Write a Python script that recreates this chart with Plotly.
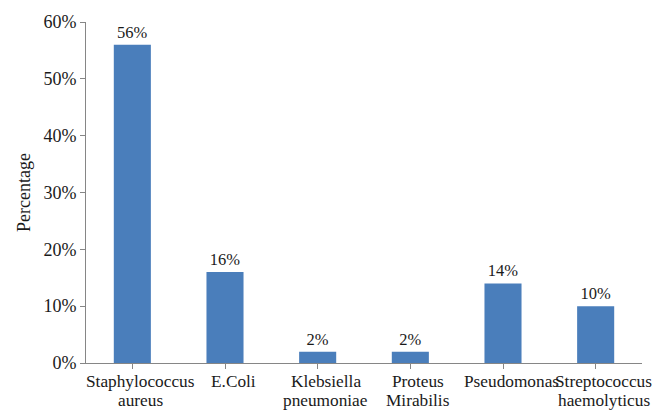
import plotly.graph_objects as go

categories = ["Staphylococcus aureus", "E.Coli", "Klebsiella pneumoniae",
              "Proteus Mirabilis", "Pseudomonas", "Streptococcus haemolyticus"]
values = [56, 16, 2, 2, 14, 10]
y_ticks = [0, 10, 20, 30, 40, 50, 60]

fam = "Liberation Serif, Times New Roman, serif"
col = "#1a1a1a"
font = dict(family=fam, size=18, color=col)
xfont = dict(family=fam, size=17.3, color=col)
lblfont = dict(family=fam, size=16.5, color=col)

xs = list(range(len(categories)))

fig = go.Figure(go.Bar(
    x=xs, y=values,
    width=0.4, marker=dict(color="#4a7ebb", line=dict(width=0)),
    text=[f"{v}%" for v in values], textposition="outside",
    textfont=lblfont, cliponaxis=False,
))

# category labels (two lines with the tighter spacing of the original)
for x, name in zip(xs, categories):
    lines = name.split(" ", 1)
    for i, line in enumerate(lines):
        fig.add_annotation(
            x=x, xref="x", y=0, yref="paper",
            text=line, showarrow=False, font=xfont,
            xanchor="center", yanchor="middle",
            xshift=8, yshift=-(18 + 19.5 * i),
        )

fig.update_layout(
    width=656, height=410,
    margin=dict(l=86, r=14, t=22, b=47),
    plot_bgcolor="white", paper_bgcolor="white",
    font=font, showlegend=False,
    xaxis=dict(
        range=[-0.5, 5.5], tickmode="array",
        tickvals=xs, ticktext=[""] * len(xs),
        showline=True, linecolor="#868686", linewidth=1,
        ticks="outside", ticklen=5, tickcolor="#868686",
        tickson="boundaries", showgrid=False, zeroline=False,
        tickfont=xfont, tickangle=0, automargin=False,
    ),
    yaxis=dict(
        range=[0, 60], tickvals=y_ticks, ticktext=[f"{t}%" for t in y_ticks],
        showline=True, linecolor="#868686", linewidth=1,
        ticks="outside", ticklen=5, tickcolor="#868686",
        showgrid=False, zeroline=False, tickfont=font, automargin=False,
        title=dict(text="Percentage", font=font, standoff=8),
    ),
)

fig.write_html("out.html")
